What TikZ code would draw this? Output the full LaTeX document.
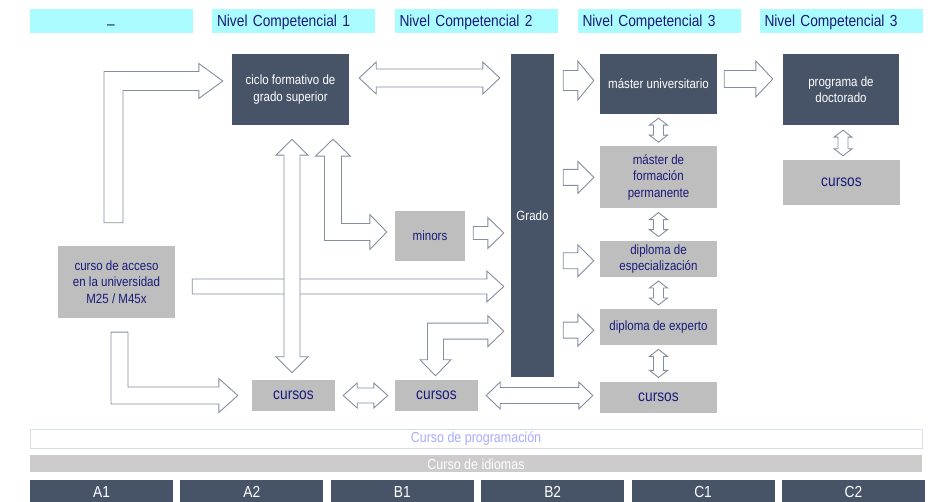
\documentclass[tikz,border=0pt]{standalone}
\usepackage{fontspec}
\setmainfont{Liberation Sans}[FakeStretch=0.86]
\usetikzlibrary{positioning,calc}
\definecolor{cyanbg}{RGB}{170,252,255}
\definecolor{navy}{RGB}{26,26,122}
\definecolor{slate}{RGB}{71,84,103}
\definecolor{greybox}{RGB}{190,190,190}
\definecolor{arrline}{RGB}{132,142,160}
\definecolor{barline}{RGB}{214,222,232}
\definecolor{lavender}{RGB}{170,170,255}
\definecolor{idiomgrey}{RGB}{204,204,204}
\newcommand\hdfont{\fontsize{16}{19}\selectfont}
\newcommand\bxfont{\fontsize{13.4}{16.5}\selectfont}
\newcommand\crfont{\fontsize{16}{19}\selectfont}
\newcommand\brfont{\fontsize{14.5}{17}\selectfont}

\tikzset{
  blkw/.store in=\blkw, blkh/.store in=\blkh, blkl/.store in=\blkl,
  blkw=8pt, blkh=16pt, blkl=16pt,
  blk/.style={draw=arrline, fill=white, line width=0.9pt, line join=miter},
  tinyarr/.style={blkw=5pt, blkh=9pt, blkl=7pt},
  % straight block arrow, one head
  harrow/.style={blk, to path={let \p1=(\tikztostart), \p2=(\tikztotarget),
      \n1={sign(\x2-\x1)} in
      (\x1,{\y1+\blkw}) -- ({\x2-(\n1)*\blkl},{\y1+\blkw})
      -- ({\x2-(\n1)*\blkl},{\y1+\blkh}) -- (\x2,\y1)
      -- ({\x2-(\n1)*\blkl},{\y1-\blkh}) -- ({\x2-(\n1)*\blkl},{\y1-\blkw})
      -- (\x1,{\y1-\blkw}) -- cycle}},
  % straight block arrow, two heads
  hdarrow/.style={blk, to path={let \p1=(\tikztostart), \p2=(\tikztotarget),
      \n1={sign(\x2-\x1)} in
      (\x1,\y1) -- ({\x1+(\n1)*\blkl},{\y1+\blkh}) -- ({\x1+(\n1)*\blkl},{\y1+\blkw})
      -- ({\x2-(\n1)*\blkl},{\y1+\blkw}) -- ({\x2-(\n1)*\blkl},{\y1+\blkh}) -- (\x2,\y1)
      -- ({\x2-(\n1)*\blkl},{\y1-\blkh}) -- ({\x2-(\n1)*\blkl},{\y1-\blkw})
      -- ({\x1+(\n1)*\blkl},{\y1-\blkw}) -- ({\x1+(\n1)*\blkl},{\y1-\blkh}) -- cycle}},
  vdarrow/.style={blk, to path={let \p1=(\tikztostart), \p2=(\tikztotarget),
      \n1={sign(\y2-\y1)} in
      (\x1,\y1) -- ({\x1+\blkh},{\y1+(\n1)*\blkl}) -- ({\x1+\blkw},{\y1+(\n1)*\blkl})
      -- ({\x1+\blkw},{\y2-(\n1)*\blkl}) -- ({\x1+\blkh},{\y2-(\n1)*\blkl}) -- (\x1,\y2)
      -- ({\x1-\blkh},{\y2-(\n1)*\blkl}) -- ({\x1-\blkw},{\y2-(\n1)*\blkl})
      -- ({\x1-\blkw},{\y1+(\n1)*\blkl}) -- ({\x1-\blkh},{\y1+(\n1)*\blkl}) -- cycle}},
  % bent block arrows, vertical first
  larrow/.style={blk, to path={let \p1=(\tikztostart), \p2=(\tikztotarget),
      \n1={sign(\x2-\x1)}, \n2={sign(\y2-\y1)} in
      ({\x1-(\n1)*\blkw},\y1) -- ({\x1-(\n1)*\blkw},{\y2+(\n2)*\blkw})
      -- ({\x2-(\n1)*\blkl},{\y2+(\n2)*\blkw}) -- ({\x2-(\n1)*\blkl},{\y2+(\n2)*\blkh})
      -- (\x2,\y2) -- ({\x2-(\n1)*\blkl},{\y2-(\n2)*\blkh})
      -- ({\x2-(\n1)*\blkl},{\y2-(\n2)*\blkw}) -- ({\x1+(\n1)*\blkw},{\y2-(\n2)*\blkw})
      -- ({\x1+(\n1)*\blkw},\y1) -- cycle}},
  ldarrow/.style={blk, to path={let \p1=(\tikztostart), \p2=(\tikztotarget),
      \n1={sign(\x2-\x1)}, \n2={sign(\y2-\y1)} in
      (\x1,\y1) -- ({\x1-(\n1)*\blkh},{\y1+(\n2)*\blkl}) -- ({\x1-(\n1)*\blkw},{\y1+(\n2)*\blkl})
      -- ({\x1-(\n1)*\blkw},{\y2+(\n2)*\blkw}) -- ({\x2-(\n1)*\blkl},{\y2+(\n2)*\blkw})
      -- ({\x2-(\n1)*\blkl},{\y2+(\n2)*\blkh}) -- (\x2,\y2)
      -- ({\x2-(\n1)*\blkl},{\y2-(\n2)*\blkh}) -- ({\x2-(\n1)*\blkl},{\y2-(\n2)*\blkw})
      -- ({\x1+(\n1)*\blkw},{\y2-(\n2)*\blkw}) -- ({\x1+(\n1)*\blkw},{\y1+(\n2)*\blkl})
      -- ({\x1+(\n1)*\blkh},{\y1+(\n2)*\blkl}) -- cycle}},
  hdr/.style={fill=cyanbg, text=navy, font=\hdfont, minimum height=24pt,
      text width=153pt, text height=13.5pt, text depth=1.5pt,
      inner xsep=5pt, inner ysep=0pt, align=left},
  dbox/.style={fill=slate, text=white, font=\bxfont, align=center, inner sep=0pt},
  gbox/.style={fill=greybox, text=navy, font=\bxfont, align=center, inner sep=0pt},
  lvl/.style={fill=slate, text=white, font=\crfont, minimum width=143pt,
      minimum height=24pt, inner sep=0pt}
}

\begin{document}
\begin{tikzpicture}[x=1pt, y=-1pt]
  \useasboundingbox (0,0) rectangle (932,502);

  % cabecera
  \node[hdr, align=center] (h0) at (111,21) {\raisebox{-2.5pt}{–}};
  \node[hdr] (h1) at (293.5,21) {Nivel Competencial 1};
  \node[hdr] (h2) at (476,21) {Nivel Competencial 2};
  \node[hdr] (h3) at (659,21) {Nivel Competencial 3};
  \node[hdr] (h4) at (841,21) {Nivel Competencial 3};

  \node[dbox, minimum width=117pt, minimum height=71pt] (cfgs) at (290.5,89.5) {ciclo formativo de\\grado superior};
  \node[dbox, minimum width=43pt, minimum height=323pt] (grado) at (532.5,215.5) {Grado};
  \node[dbox, minimum width=117pt, minimum height=60pt] (mu) at (658.5,84) {máster universitario};
  \node[dbox, minimum width=116pt, minimum height=71pt] (doct) at (841,89.5) {programa de\\doctorado};

  \node[gbox, minimum width=117pt, minimum height=62pt, below=32pt of mu] (mfp) {máster de\\formación\\permanente};
  \node[gbox, minimum width=117pt, minimum height=36pt, below=32pt of mfp] (desp) {diploma de\\especialización};
  \node[gbox, minimum width=117pt, minimum height=36pt, below=32pt of desp] (dexp) {diploma de experto};
  \node[gbox, font=\crfont, minimum width=117pt, minimum height=31pt, below=36pt of dexp] (cur3) {cursos};
  \node[gbox, font=\crfont, minimum width=117pt, minimum height=45pt] (curd) at (841.5,182.5) {cursos};
  \node[gbox, minimum width=70pt, minimum height=50pt] (minors) at (430,236) {minors};
  \node[gbox, minimum width=117pt, minimum height=72pt] (acceso) at (116.5,282) {curso de acceso\\en la universidad\\M25 / M45x};
  \node[gbox, font=\crfont, minimum width=83pt, minimum height=31pt] (cur1) at (293.5,395.5) {cursos};
  \node[gbox, font=\crfont, minimum width=83pt, minimum height=31pt] (cur2) at (436.5,395.5) {cursos};

  % flechas
  \draw[larrow, blkw=9.5pt, blkh=17.5pt, blkl=24pt] ($(acceso.north)+(-3,-23)$) to ($(cfgs.west)+(-9,-8.5)$);
  \draw[hdarrow, blkw=9pt, blkh=16pt, blkl=17pt] ($(cfgs.east)+(10,-11.5)$) to ($(grado.west |- cfgs.east)+(-11,0)$);
  \draw[harrow, blkw=10pt, blkh=19.5pt] ($(grado.east |- mu.west)+(9,-3.5)$) to ($(mu.west)+(-6,0)$);
  \draw[harrow, blkw=8.5pt, blkh=18pt, blkl=17pt] ($(mu.east)+(7,-5)$) to ($(doct.west)+(-10,0)$);
  \draw[harrow] ($(grado.east |- mfp.west)+(9,0)$) to ($(mfp.west)+(-6,0)$);
  \draw[harrow] ($(grado.east |- desp.west)+(9,2)$) to ($(desp.west)+(-6,0)$);
  \draw[harrow] ($(grado.east |- dexp.west)+(9,3)$) to ($(dexp.west)+(-6,0)$);
  \draw[vdarrow, tinyarr] ($(mu.south)+(0,4)$) to ($(mfp.north)+(0,-4)$);
  \draw[vdarrow, tinyarr] ($(mfp.south)+(0,4)$) to ($(desp.north)+(0,-4)$);
  \draw[vdarrow, tinyarr] ($(desp.south)+(0,4)$) to ($(dexp.north)+(0,-4)$);
  \draw[vdarrow, tinyarr] ($(dexp.south)+(0,4)$) to ($(cur3.north)+(0,-4)$);
  \draw[vdarrow, tinyarr] ($(doct.south)+(2,5)$) to ($(curd.north)+(0,-4)$);
  \draw[harrow, blkw=6.5pt, blkh=15.5pt] ($(minors.east)+(8,-3)$) to ($(grado.west)+(-7,0)$);
  \draw[harrow, blkw=7.5pt, blkh=15.5pt, blkl=17pt] ($(acceso.east)+(17,4.5)$) to ($(grado.west)+(-7,0)$);
  \draw[vdarrow] ($(cfgs.south)+(1.5,14)$) to ($(cur1.north)+(0,-7)$);
  \draw[ldarrow, blkw=8.5pt, blkh=17.5pt, blkl=17pt] ($(cfgs.south)+(42.5,14)$) to ($(minors.west)+(-8,-4)$);
  \draw[larrow, blkw=8.5pt, blkh=17pt, blkl=19pt] ($(acceso.south)+(3,14)$) to ($(cur1.west)+(-14,0)$);
  \draw[hdarrow, blkw=7.5pt, blkh=12.5pt, blkl=14pt] ($(cur1.east)+(8,0)$) to ($(cur2.west)+(-7,0)$);
  \draw[hdarrow, blkw=8pt, blkh=13.5pt, blkl=14pt] ($(cur2.east)+(8,0)$) to ($(cur3.west)+(-7,0)$);
  \draw[ldarrow, blkw=8pt, blkh=15.5pt] ($(cur2.north)+(-1,-4)$) to ($(grado.west |- dexp.west)+(-7,4)$);

  % cursos transversales y niveles
  \node[draw=barline, fill=white, text=lavender, font=\brfont, minimum width=892pt, minimum height=19pt, inner sep=0pt] (prog) at (476,438.5) {Curso de programación};
  \node[fill=idiomgrey, text=white, font=\brfont, minimum width=892pt, minimum height=17pt, inner sep=0pt, below=7pt of prog] (idio) {Curso de idiomas};
  \node[lvl] (a1) at (101.5,492) {A1};
  \node[lvl, right=7pt of a1] (a2) {A2};
  \node[lvl, right=7pt of a2] (b1) {B1};
  \node[lvl, right=7pt of b1] (b2) {B2};
  \node[lvl, right=7pt of b2] (c1) {C1};
  \node[lvl, right=7pt of c1] (c2) {C2};
\end{tikzpicture}
\end{document}
